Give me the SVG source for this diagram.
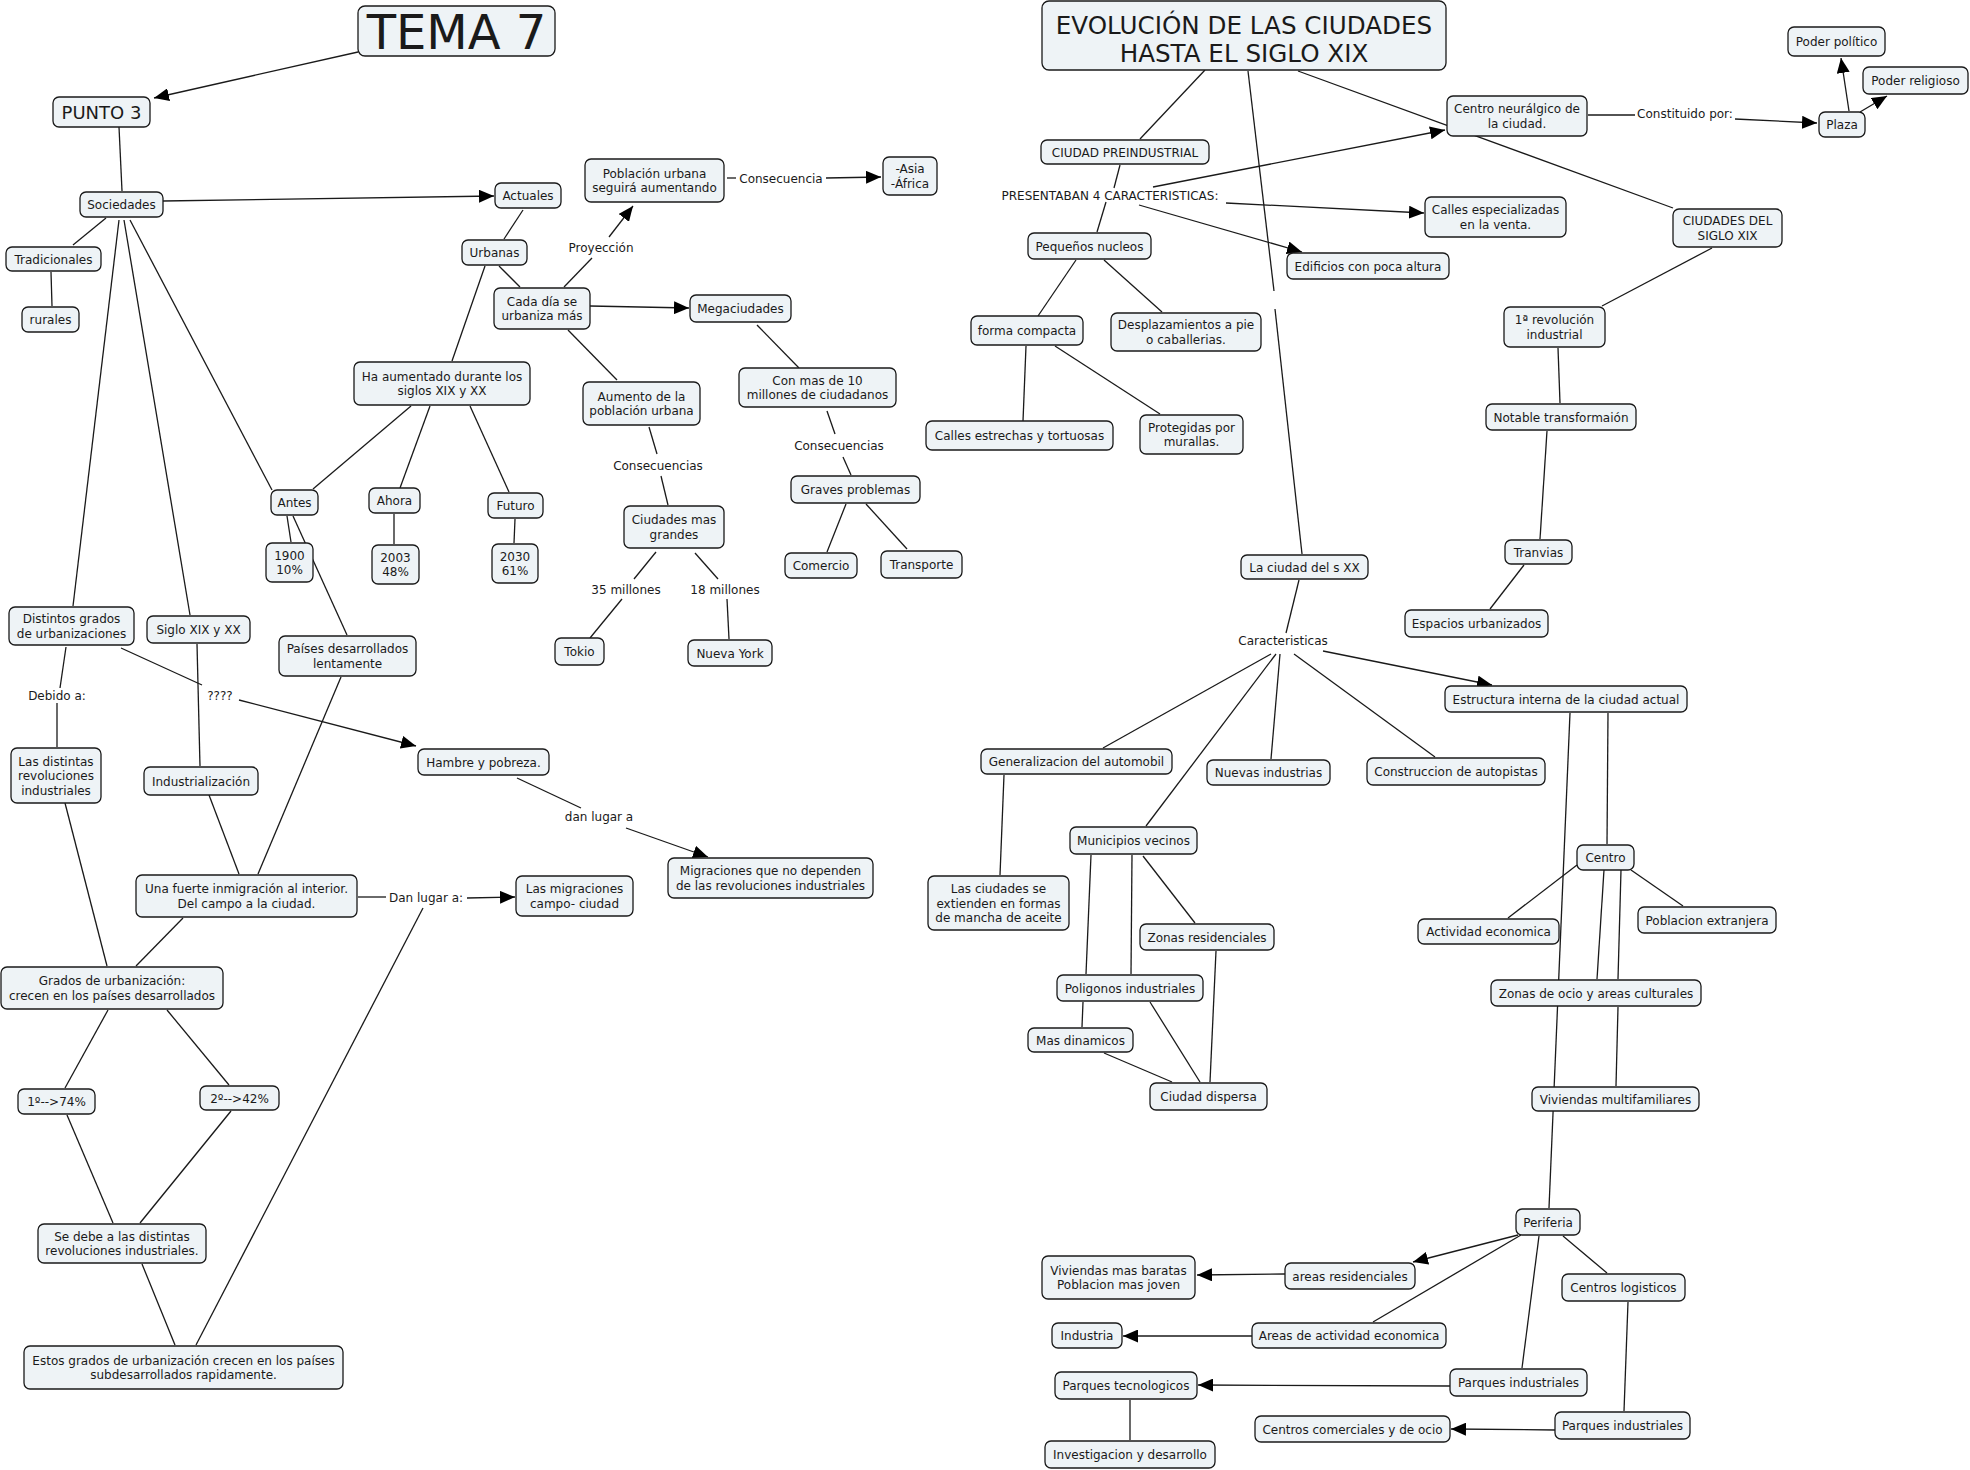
<svg xmlns="http://www.w3.org/2000/svg" width="1970" height="1470" viewBox="0 0 1970 1470">
<style>
.node rect{fill:#eef3f6;stroke:#1a1a1a;stroke-width:1.3}
text{font-family:"DejaVu Sans",Verdana,sans-serif;font-size:12px;fill:#1a1a1a;text-anchor:middle}
.conn line{stroke:#1a1a1a;stroke-width:1.3}
.conn line.a{marker-end:url(#arr)}
</style>
<defs>
<marker id="arr" markerUnits="userSpaceOnUse" markerWidth="15" markerHeight="13" viewBox="0 0 15 13" refX="15" refY="6.5" orient="auto"><path d="M0,0 L15,6.5 L0,13 z" fill="#000"/></marker>
</defs>
<rect width="1970" height="1470" fill="#fff"/>
<g class="conn" id="connectors">
<line class="a" x1="358" y1="52" x2="154" y2="98"/>
<line x1="119" y1="127" x2="122" y2="191"/>
<line class="a" x1="163" y1="201" x2="494" y2="196"/>
<line x1="106" y1="218" x2="73" y2="245"/>
<line x1="51" y1="272" x2="52" y2="306"/>
<line x1="119" y1="220" x2="73" y2="606"/>
<line x1="124" y1="220" x2="190" y2="615"/>
<line x1="130" y1="220" x2="272" y2="490"/>
<line x1="523" y1="210" x2="504" y2="239"/>
<line x1="499" y1="266" x2="520" y2="287"/>
<line x1="485" y1="266" x2="452" y2="361"/>
<line class="a" x1="590" y1="306" x2="689" y2="308"/>
<line x1="564" y1="287" x2="592" y2="258"/>
<line class="a" x1="609" y1="237" x2="633" y2="206"/>
<line x1="727" y1="178" x2="736" y2="178"/>
<line class="a" x1="826" y1="178" x2="881" y2="177"/>
<line x1="568" y1="330" x2="617" y2="380"/>
<line x1="757" y1="325" x2="799" y2="368"/>
<line x1="827" y1="411" x2="835" y2="434"/>
<line x1="843" y1="457" x2="851" y2="475"/>
<line x1="649" y1="427" x2="657" y2="454"/>
<line x1="661" y1="476" x2="668" y2="505"/>
<line x1="846" y1="504" x2="827" y2="552"/>
<line x1="866" y1="504" x2="907" y2="549"/>
<line x1="656" y1="552" x2="634" y2="579"/>
<line x1="622" y1="599" x2="590" y2="638"/>
<line x1="695" y1="553" x2="718" y2="579"/>
<line x1="727" y1="599" x2="729" y2="639"/>
<line x1="411" y1="406" x2="313" y2="489"/>
<line x1="430" y1="406" x2="400" y2="488"/>
<line x1="470" y1="406" x2="509" y2="492"/>
<line x1="287" y1="516" x2="291" y2="542"/>
<line x1="293" y1="516" x2="347" y2="635"/>
<line x1="394" y1="514" x2="394" y2="544"/>
<line x1="515" y1="519" x2="514" y2="543"/>
<line x1="66" y1="647" x2="60" y2="688"/>
<line x1="57" y1="703" x2="57" y2="747"/>
<line x1="121" y1="648" x2="202" y2="685"/>
<line class="a" x1="239" y1="700" x2="416" y2="746"/>
<line x1="197" y1="644" x2="200" y2="766"/>
<line x1="209" y1="795" x2="239" y2="874"/>
<line x1="341" y1="677" x2="258" y2="874"/>
<line x1="65" y1="803" x2="107" y2="966"/>
<line x1="183" y1="918" x2="136" y2="966"/>
<line x1="108" y1="1010" x2="65" y2="1088"/>
<line x1="167" y1="1010" x2="229" y2="1085"/>
<line x1="67" y1="1115" x2="113" y2="1223"/>
<line x1="231" y1="1111" x2="140" y2="1223"/>
<line x1="142" y1="1264" x2="175" y2="1345"/>
<line x1="358" y1="897" x2="386" y2="897"/>
<line class="a" x1="467" y1="898" x2="515" y2="897"/>
<line x1="423" y1="908" x2="196" y2="1345"/>
<line x1="517" y1="778" x2="581" y2="808"/>
<line class="a" x1="626" y1="828" x2="708" y2="857"/>
<line x1="1205" y1="70" x2="1140" y2="139"/>
<line x1="1248" y1="71" x2="1274" y2="291"/>
<line x1="1275" y1="309" x2="1302" y2="554"/>
<line x1="1298" y1="71" x2="1673" y2="208"/>
<line x1="1120" y1="165" x2="1114" y2="188"/>
<line class="a" x1="1153" y1="187" x2="1445" y2="130"/>
<line class="a" x1="1226" y1="203" x2="1424" y2="213"/>
<line class="a" x1="1139" y1="205" x2="1302" y2="252"/>
<line x1="1106" y1="202" x2="1097" y2="232"/>
<line x1="1588" y1="115" x2="1635" y2="115"/>
<line class="a" x1="1735" y1="119" x2="1817" y2="123"/>
<line class="a" x1="1849" y1="111" x2="1841" y2="58"/>
<line class="a" x1="1860" y1="112" x2="1887" y2="96"/>
<line x1="1712" y1="248" x2="1602" y2="306"/>
<line x1="1558" y1="348" x2="1560" y2="403"/>
<line x1="1547" y1="431" x2="1540" y2="539"/>
<line x1="1524" y1="565" x2="1490" y2="609"/>
<line x1="1076" y1="260" x2="1038" y2="316"/>
<line x1="1104" y1="260" x2="1162" y2="312"/>
<line x1="1026" y1="346" x2="1023" y2="421"/>
<line x1="1055" y1="346" x2="1160" y2="414"/>
<line x1="1299" y1="580" x2="1286" y2="633"/>
<line class="a" x1="1323" y1="651" x2="1492" y2="685"/>
<line x1="1271" y1="654" x2="1103" y2="748"/>
<line x1="1276" y1="654" x2="1146" y2="826"/>
<line x1="1280" y1="654" x2="1271" y2="759"/>
<line x1="1294" y1="654" x2="1435" y2="757"/>
<line x1="1570" y1="713" x2="1549" y2="1208"/>
<line x1="1608" y1="713" x2="1607" y2="844"/>
<line x1="1577" y1="865" x2="1508" y2="918"/>
<line x1="1604" y1="870" x2="1597" y2="979"/>
<line x1="1621" y1="870" x2="1618" y2="979"/>
<line x1="1631" y1="870" x2="1683" y2="906"/>
<line x1="1618" y1="1007" x2="1616" y2="1086"/>
<line class="a" x1="1518" y1="1235" x2="1413" y2="1262"/>
<line x1="1521" y1="1235" x2="1373" y2="1322"/>
<line x1="1539" y1="1236" x2="1522" y2="1368"/>
<line x1="1563" y1="1236" x2="1607" y2="1273"/>
<line x1="1628" y1="1302" x2="1624" y2="1411"/>
<line class="a" x1="1285" y1="1274" x2="1197" y2="1275"/>
<line class="a" x1="1252" y1="1336" x2="1123" y2="1336"/>
<line class="a" x1="1450" y1="1386" x2="1198" y2="1385"/>
<line class="a" x1="1555" y1="1430" x2="1451" y2="1429"/>
<line x1="1130" y1="1400" x2="1130" y2="1440"/>
<line x1="1004" y1="775" x2="1000" y2="875"/>
<line x1="1091" y1="855" x2="1086" y2="974"/>
<line x1="1132" y1="855" x2="1131" y2="974"/>
<line x1="1143" y1="856" x2="1195" y2="923"/>
<line x1="1216" y1="951" x2="1210" y2="1082"/>
<line x1="1083" y1="1002" x2="1082" y2="1027"/>
<line x1="1150" y1="1002" x2="1200" y2="1082"/>
<line x1="1104" y1="1053" x2="1172" y2="1082"/>
</g>
<g id="labels">
<text x="781" y="182.5">Consecuencia</text>
<text x="601" y="251.5">Proyección</text>
<text x="839" y="449.5">Consecuencias</text>
<text x="658" y="469.5">Consecuencias</text>
<text x="626" y="593.5">35 millones</text>
<text x="725" y="593.5">18 millones</text>
<text x="57" y="700">Debido a:</text>
<text x="220" y="700">????</text>
<text x="599" y="821">dan lugar a</text>
<text x="426" y="902">Dan lugar a:</text>
<text x="1685" y="117.5">Constituido por:</text>
<text x="1110" y="200">PRESENTABAN 4 CARACTERISTICAS:</text>
<text x="1283" y="645">Caracteristicas</text>
</g>
<g id="tema7" class="node"><rect x="358" y="6" width="197" height="50" rx="7"/><text x="456.5" y="48.5" style="font-size:48px">TEMA 7</text></g>
<g id="punto3" class="node"><rect x="53" y="97" width="97" height="30" rx="6"/><text x="101.5" y="118.5" style="font-size:18px">PUNTO 3</text></g>
<g id="sociedades" class="node"><rect x="80" y="192" width="83" height="25" rx="6"/><text x="121.5" y="209">Sociedades</text></g>
<g id="actuales" class="node"><rect x="495" y="183" width="66" height="25" rx="6"/><text x="528" y="200">Actuales</text></g>
<g id="poblacion" class="node"><rect x="585" y="159" width="139" height="43" rx="6"/><text x="654.5" y="177.75">Población urbana</text><text x="654.5" y="192.25">seguirá aumentando</text></g>
<g id="asia" class="node"><rect x="883" y="157" width="54" height="38" rx="6"/><text x="910" y="173.25">-Asia</text><text x="910" y="187.75">-África</text></g>
<g id="tradicionales" class="node"><rect x="6" y="247" width="95" height="24" rx="6"/><text x="53.5" y="263.5">Tradicionales</text></g>
<g id="rurales" class="node"><rect x="22" y="307" width="57" height="25" rx="6"/><text x="50.5" y="324">rurales</text></g>
<g id="urbanas" class="node"><rect x="462" y="240" width="65" height="25" rx="6"/><text x="494.5" y="257">Urbanas</text></g>
<g id="cadadia" class="node"><rect x="494" y="288" width="96" height="41" rx="6"/><text x="542" y="305.75">Cada día se</text><text x="542" y="320.25">urbaniza más</text></g>
<g id="megaciudades" class="node"><rect x="690" y="295" width="101" height="27" rx="6"/><text x="740.5" y="313">Megaciudades</text></g>
<g id="haaumentado" class="node"><rect x="354" y="362" width="176" height="43" rx="6"/><text x="442" y="380.75">Ha aumentado durante los</text><text x="442" y="395.25">siglos XIX y XX</text></g>
<g id="aumento" class="node"><rect x="583" y="382" width="117" height="43" rx="6"/><text x="641.5" y="400.75">Aumento de la</text><text x="641.5" y="415.25">población urbana</text></g>
<g id="conmas" class="node"><rect x="739" y="368" width="157" height="39" rx="6"/><text x="817.5" y="384.75">Con mas de 10</text><text x="817.5" y="399.25">millones de ciudadanos</text></g>
<g id="graves" class="node"><rect x="791" y="476" width="129" height="27" rx="6"/><text x="855.5" y="494">Graves problemas</text></g>
<g id="comercio" class="node"><rect x="785" y="553" width="72" height="25" rx="6"/><text x="821" y="570">Comercio</text></g>
<g id="transporte" class="node"><rect x="881" y="551" width="81" height="27" rx="6"/><text x="921.5" y="569">Transporte</text></g>
<g id="antes" class="node"><rect x="271" y="490" width="47" height="25" rx="6"/><text x="294.5" y="507">Antes</text></g>
<g id="ahora" class="node"><rect x="369" y="488" width="51" height="25" rx="6"/><text x="394.5" y="505">Ahora</text></g>
<g id="futuro" class="node"><rect x="488" y="493" width="55" height="25" rx="6"/><text x="515.5" y="510">Futuro</text></g>
<g id="y1900" class="node"><rect x="266" y="543" width="47" height="39" rx="6"/><text x="289.5" y="559.75">1900</text><text x="289.5" y="574.25">10%</text></g>
<g id="y2003" class="node"><rect x="372" y="545" width="47" height="39" rx="6"/><text x="395.5" y="561.75">2003</text><text x="395.5" y="576.25">48%</text></g>
<g id="y2030" class="node"><rect x="492" y="544" width="46" height="39" rx="6"/><text x="515" y="560.75">2030</text><text x="515" y="575.25">61%</text></g>
<g id="ciudadesgrandes" class="node"><rect x="624" y="506" width="100" height="42" rx="6"/><text x="674" y="524.25">Ciudades mas</text><text x="674" y="538.75">grandes</text></g>
<g id="tokio" class="node"><rect x="555" y="638" width="49" height="27" rx="6"/><text x="579.5" y="656">Tokio</text></g>
<g id="nuevayork" class="node"><rect x="688" y="640" width="84" height="26" rx="6"/><text x="730" y="657.5">Nueva York</text></g>
<g id="distintos" class="node"><rect x="9" y="607" width="125" height="38" rx="6"/><text x="71.5" y="623.25">Distintos grados</text><text x="71.5" y="637.75">de urbanizaciones</text></g>
<g id="siglo" class="node"><rect x="147" y="616" width="103" height="27" rx="6"/><text x="198.5" y="634">Siglo XIX y XX</text></g>
<g id="paises" class="node"><rect x="279" y="636" width="137" height="40" rx="6"/><text x="347.5" y="653.25">Países desarrollados</text><text x="347.5" y="667.75">lentamente</text></g>
<g id="lasdistintas" class="node"><rect x="11" y="748" width="90" height="55" rx="6"/><text x="56" y="765.5">Las distintas</text><text x="56" y="780">revoluciones</text><text x="56" y="794.5">industriales</text></g>
<g id="industrializacion" class="node"><rect x="144" y="767" width="114" height="28" rx="6"/><text x="201" y="785.5">Industrialización</text></g>
<g id="hambre" class="node"><rect x="418" y="749" width="131" height="26" rx="6"/><text x="483.5" y="766.5">Hambre y pobreza.</text></g>
<g id="migraciones" class="node"><rect x="668" y="858" width="205" height="40" rx="6"/><text x="770.5" y="875.25">Migraciones que no dependen</text><text x="770.5" y="889.75">de las revoluciones industriales</text></g>
<g id="unafuerte" class="node"><rect x="136" y="875" width="221" height="42" rx="6"/><text x="246.5" y="893.25">Una fuerte inmigración al interior.</text><text x="246.5" y="907.75">Del campo a la ciudad.</text></g>
<g id="lasmigraciones" class="node"><rect x="516" y="876" width="117" height="40" rx="6"/><text x="574.5" y="893.25">Las migraciones</text><text x="574.5" y="907.75">campo- ciudad</text></g>
<g id="grados" class="node"><rect x="1" y="967" width="222" height="42" rx="6"/><text x="112" y="985.25">Grados de urbanización:</text><text x="112" y="999.75">crecen en los países desarrollados</text></g>
<g id="p74" class="node"><rect x="18" y="1089" width="77" height="25" rx="6"/><text x="56.5" y="1106">1º--&gt;74%</text></g>
<g id="p42" class="node"><rect x="200" y="1086" width="79" height="24" rx="6"/><text x="239.5" y="1102.5">2º--&gt;42%</text></g>
<g id="sedebe" class="node"><rect x="38" y="1224" width="168" height="39" rx="6"/><text x="122" y="1240.75">Se debe a las distintas</text><text x="122" y="1255.25">revoluciones industriales.</text></g>
<g id="estos" class="node"><rect x="24" y="1346" width="319" height="43" rx="6"/><text x="183.5" y="1364.75">Estos grados de urbanización crecen en los países</text><text x="183.5" y="1379.25">subdesarrollados rapidamente.</text></g>
<g id="evolucion" class="node"><rect x="1042" y="1" width="404" height="69" rx="7"/><text x="1244" y="34" style="font-size:24.6px">EVOLUCIÓN DE LAS CIUDADES</text><text x="1244" y="62" style="font-size:24.6px">HASTA EL SIGLO XIX</text></g>
<g id="poderpolitico" class="node"><rect x="1788" y="27" width="97" height="29" rx="6"/><text x="1836.5" y="46">Poder político</text></g>
<g id="poderreligioso" class="node"><rect x="1863" y="67" width="105" height="27" rx="6"/><text x="1915.5" y="85">Poder religioso</text></g>
<g id="centroneuralgico" class="node"><rect x="1447" y="96" width="140" height="40" rx="6"/><text x="1517" y="113.25">Centro neurálgico de</text><text x="1517" y="127.75">la ciudad.</text></g>
<g id="plaza" class="node"><rect x="1819" y="112" width="46" height="25" rx="6"/><text x="1842" y="129">Plaza</text></g>
<g id="ciudadpre" class="node"><rect x="1041" y="140" width="168" height="24" rx="6"/><text x="1125" y="156.5">CIUDAD PREINDUSTRIAL</text></g>
<g id="callesesp" class="node"><rect x="1425" y="197" width="141" height="40" rx="6"/><text x="1495.5" y="214.25">Calles especializadas</text><text x="1495.5" y="228.75">en la venta.</text></g>
<g id="ciudadesxix" class="node"><rect x="1673" y="209" width="109" height="38" rx="6"/><text x="1727.5" y="225.25">CIUDADES DEL</text><text x="1727.5" y="239.75">SIGLO XIX</text></g>
<g id="pequenos" class="node"><rect x="1028" y="233" width="123" height="26" rx="6"/><text x="1089.5" y="250.5">Pequeños nucleos</text></g>
<g id="edificios" class="node"><rect x="1287" y="253" width="162" height="26" rx="6"/><text x="1368" y="270.5">Edificios con poca altura</text></g>
<g id="forma" class="node"><rect x="971" y="316" width="112" height="29" rx="6"/><text x="1027" y="335">forma compacta</text></g>
<g id="desplaz" class="node"><rect x="1111" y="313" width="150" height="38" rx="6"/><text x="1186" y="329.25">Desplazamientos a pie</text><text x="1186" y="343.75">o caballerias.</text></g>
<g id="rev1" class="node"><rect x="1504" y="307" width="101" height="40" rx="6"/><text x="1554.5" y="324.25">1ª revolución</text><text x="1554.5" y="338.75">industrial</text></g>
<g id="callesest" class="node"><rect x="926" y="421" width="187" height="29" rx="6"/><text x="1019.5" y="440">Calles estrechas y tortuosas</text></g>
<g id="protegidas" class="node"><rect x="1140" y="415" width="103" height="39" rx="6"/><text x="1191.5" y="431.75">Protegidas por</text><text x="1191.5" y="446.25">murallas.</text></g>
<g id="notable" class="node"><rect x="1486" y="404" width="150" height="26" rx="6"/><text x="1561" y="421.5">Notable transformaión</text></g>
<g id="tranvias" class="node"><rect x="1505" y="540" width="67" height="24" rx="6"/><text x="1538.5" y="556.5">Tranvias</text></g>
<g id="ciudadxx" class="node"><rect x="1241" y="555" width="127" height="24" rx="6"/><text x="1304.5" y="571.5">La ciudad del s XX</text></g>
<g id="espacios" class="node"><rect x="1405" y="610" width="143" height="27" rx="6"/><text x="1476.5" y="628">Espacios urbanizados</text></g>
<g id="estructura" class="node"><rect x="1445" y="686" width="242" height="26" rx="6"/><text x="1566" y="703.5">Estructura interna de la ciudad actual</text></g>
<g id="generalizacion" class="node"><rect x="981" y="749" width="191" height="25" rx="6"/><text x="1076.5" y="766">Generalizacion del automobil</text></g>
<g id="nuevas" class="node"><rect x="1207" y="760" width="123" height="25" rx="6"/><text x="1268.5" y="777">Nuevas industrias</text></g>
<g id="construccion" class="node"><rect x="1367" y="758" width="178" height="27" rx="6"/><text x="1456" y="776">Construccion de autopistas</text></g>
<g id="municipios" class="node"><rect x="1070" y="827" width="127" height="27" rx="6"/><text x="1133.5" y="845">Municipios vecinos</text></g>
<g id="lasciudades" class="node"><rect x="928" y="876" width="141" height="54" rx="6"/><text x="998.5" y="893">Las ciudades se</text><text x="998.5" y="907.5">extienden en formas</text><text x="998.5" y="922">de mancha de aceite</text></g>
<g id="zonasres" class="node"><rect x="1140" y="924" width="134" height="26" rx="6"/><text x="1207" y="941.5">Zonas residenciales</text></g>
<g id="poligonos" class="node"><rect x="1057" y="975" width="146" height="26" rx="6"/><text x="1130" y="992.5">Poligonos industriales</text></g>
<g id="masdinamicos" class="node"><rect x="1028" y="1028" width="105" height="24" rx="6"/><text x="1080.5" y="1044.5">Mas dinamicos</text></g>
<g id="ciudaddispersa" class="node"><rect x="1150" y="1083" width="117" height="27" rx="6"/><text x="1208.5" y="1101">Ciudad dispersa</text></g>
<g id="centro" class="node"><rect x="1577" y="845" width="57" height="25" rx="6"/><text x="1605.5" y="862">Centro</text></g>
<g id="actividad" class="node"><rect x="1418" y="919" width="141" height="25" rx="6"/><text x="1488.5" y="936">Actividad economica</text></g>
<g id="poblacionext" class="node"><rect x="1638" y="907" width="138" height="26" rx="6"/><text x="1707" y="924.5">Poblacion extranjera</text></g>
<g id="zonasocio" class="node"><rect x="1491" y="980" width="210" height="26" rx="6"/><text x="1596" y="997.5">Zonas de ocio y areas culturales</text></g>
<g id="viviendasmulti" class="node"><rect x="1532" y="1087" width="167" height="24" rx="6"/><text x="1615.5" y="1103.5">Viviendas multifamiliares</text></g>
<g id="periferia" class="node"><rect x="1516" y="1209" width="64" height="26" rx="6"/><text x="1548" y="1226.5">Periferia</text></g>
<g id="viviendasbaratas" class="node"><rect x="1042" y="1256" width="153" height="43" rx="6"/><text x="1118.5" y="1274.75">Viviendas mas baratas</text><text x="1118.5" y="1289.25">Poblacion mas joven</text></g>
<g id="areasres" class="node"><rect x="1285" y="1263" width="130" height="26" rx="6"/><text x="1350" y="1280.5">areas residenciales</text></g>
<g id="centroslog" class="node"><rect x="1562" y="1274" width="123" height="27" rx="6"/><text x="1623.5" y="1292">Centros logisticos</text></g>
<g id="industria" class="node"><rect x="1052" y="1323" width="70" height="25" rx="6"/><text x="1087" y="1340">Industria</text></g>
<g id="areasact" class="node"><rect x="1252" y="1323" width="194" height="25" rx="6"/><text x="1349" y="1340">Areas de actividad economica</text></g>
<g id="parquestec" class="node"><rect x="1055" y="1372" width="142" height="27" rx="6"/><text x="1126" y="1390">Parques tecnologicos</text></g>
<g id="parquesind1" class="node"><rect x="1450" y="1369" width="137" height="27" rx="6"/><text x="1518.5" y="1387">Parques industriales</text></g>
<g id="centroscom" class="node"><rect x="1255" y="1416" width="195" height="26" rx="6"/><text x="1352.5" y="1433.5">Centros comerciales y de ocio</text></g>
<g id="parquesind2" class="node"><rect x="1555" y="1412" width="135" height="27" rx="6"/><text x="1622.5" y="1430">Parques industriales</text></g>
<g id="investigacion" class="node"><rect x="1045" y="1441" width="170" height="27" rx="6"/><text x="1130" y="1459">Investigacion y desarrollo</text></g>
</svg>
